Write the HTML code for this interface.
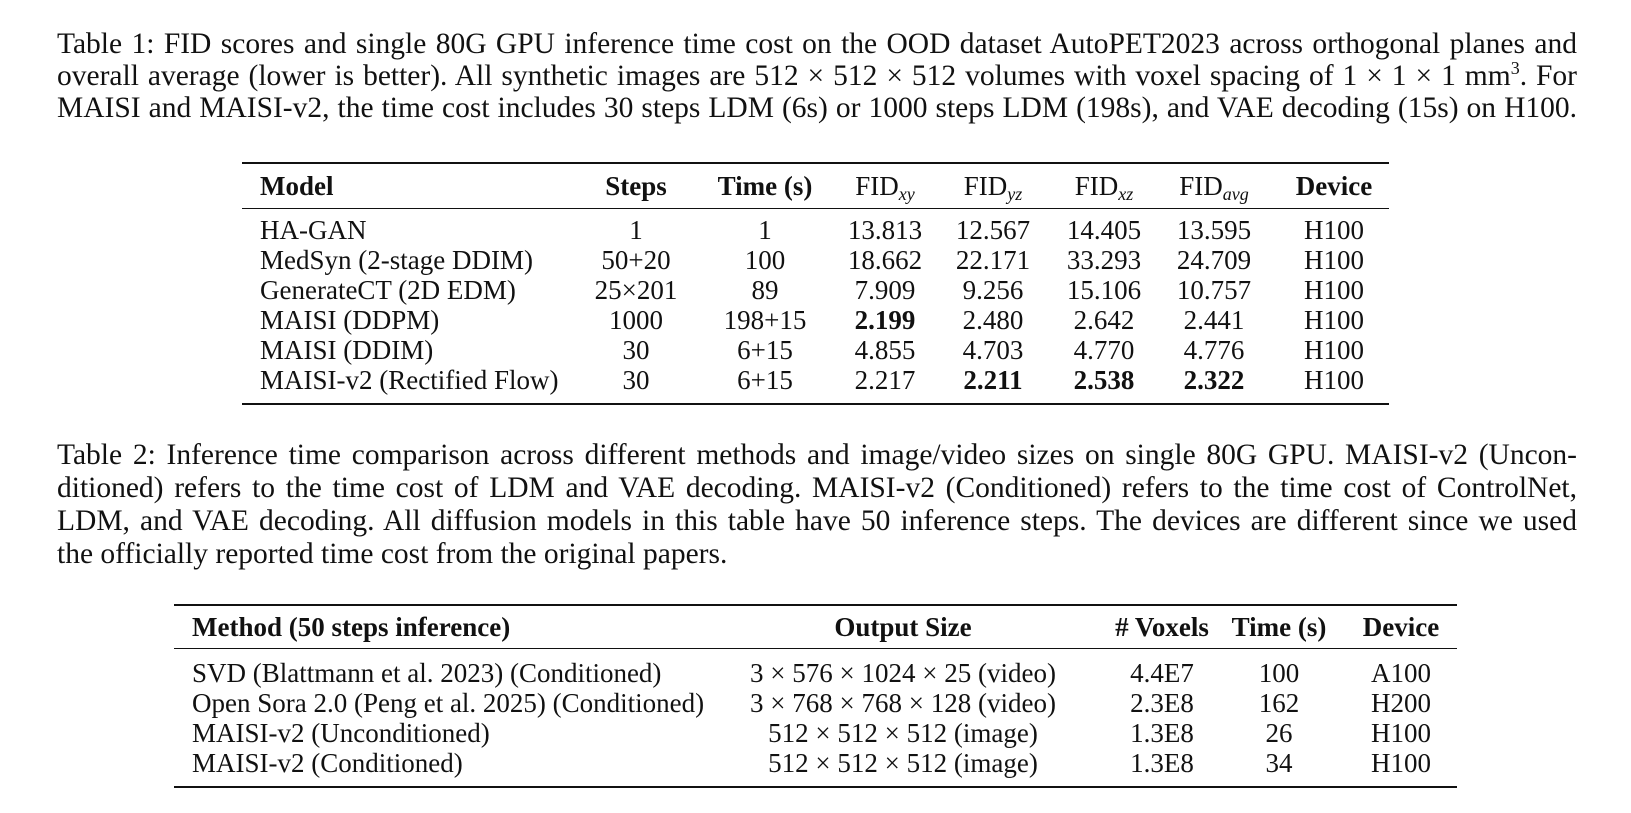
<!DOCTYPE html>
<html><head><meta charset="utf-8">
<style>
body{margin:0;background:#fff;}
#page{position:relative;width:1631px;height:813px;background:#fff;font-family:"Liberation Serif","DejaVu Serif",serif;color:#111;overflow:hidden;}
.cap{position:absolute;left:57px;width:1520px;font-size:29.5px;line-height:33px;white-space:nowrap;text-align:justify;text-align-last:justify;}
.t{position:absolute;font-size:27px;line-height:30px;white-space:nowrap;}
.c{transform:translateX(-50%);}
.rule{position:absolute;background:#111;}
sub{font-size:18px;font-style:italic;vertical-align:-5px;line-height:0;}
sup{font-size:18px;line-height:0;}
b{font-weight:bold;}
</style></head><body>
<div id="page">
<div class="cap" style="top:28px">Table 1: FID scores and single 80G GPU inference time cost on the OOD dataset AutoPET2023 across orthogonal planes and</div>
<div class="cap" style="top:60px">overall average (lower is better). All synthetic images are 512 × 512 × 512 volumes with voxel spacing of 1 × 1 × 1 mm<sup>3</sup>. For</div>
<div class="cap" style="top:92px">MAISI and MAISI-v2, the time cost includes 30 steps LDM (6s) or 1000 steps LDM (198s), and VAE decoding (15s) on H100.</div>

<div>
<div class="rule" style="left:242px;width:1147px;top:162px;height:2px"></div>
<div class="rule" style="left:242px;width:1147px;top:208px;height:1px"></div>
<div class="rule" style="left:242px;width:1147px;top:403px;height:2px"></div>
<div id="t1"></div>
</div>

<div class="cap" style="top:439px">Table 2: Inference time comparison across different methods and image/video sizes on single 80G GPU. MAISI-v2 (Uncon-</div>
<div class="cap" style="top:472px">ditioned) refers to the time cost of LDM and VAE decoding. MAISI-v2 (Conditioned) refers to the time cost of ControlNet,</div>
<div class="cap" style="top:505px">LDM, and VAE decoding. All diffusion models in this table have 50 inference steps. The devices are different since we used</div>
<div class="cap" style="top:538px;text-align-last:left">the officially reported time cost from the original papers.</div>

<div>
<div class="rule" style="left:174px;width:1283px;top:604px;height:2px"></div>
<div class="rule" style="left:174px;width:1283px;top:648px;height:1px"></div>
<div class="rule" style="left:174px;width:1283px;top:786px;height:2px"></div>
<div id="t2"></div>
</div>
</div>
<script>
const t1cols=[{x:260,a:'l'},{x:636},{x:765},{x:885},{x:993},{x:1104},{x:1214},{x:1334}];
const t1rows=[
 ['<b>Model</b>','<b>Steps</b>','<b>Time (s)</b>','FID<sub>xy</sub>','FID<sub>yz</sub>','FID<sub>xz</sub>','FID<sub>avg</sub>','<b>Device</b>'],
 ['HA-GAN','1','1','13.813','12.567','14.405','13.595','H100'],
 ['MedSyn (2-stage DDIM)','50+20','100','18.662','22.171','33.293','24.709','H100'],
 ['GenerateCT (2D EDM)','25×201','89','7.909','9.256','15.106','10.757','H100'],
 ['MAISI (DDPM)','1000','198+15','<b>2.199</b>','2.480','2.642','2.441','H100'],
 ['MAISI (DDIM)','30','6+15','4.855','4.703','4.770','4.776','H100'],
 ['MAISI-v2 (Rectified Flow)','30','6+15','2.217','<b>2.211</b>','<b>2.538</b>','<b>2.322</b>','H100']];
const t1y=[171,215,245,275,305,335,365];
const t2cols=[{x:192,a:'l'},{x:903},{x:1162},{x:1279},{x:1401}];
const t2rows=[
 ['<b>Method (50 steps inference)</b>','<b>Output Size</b>','<b># Voxels</b>','<b>Time (s)</b>','<b>Device</b>'],
 ['SVD (Blattmann et al. 2023) (Conditioned)','3 × 576 × 1024 × 25 (video)','4.4E7','100','A100'],
 ['Open Sora 2.0 (Peng et al. 2025) (Conditioned)','3 × 768 × 768 × 128 (video)','2.3E8','162','H200'],
 ['MAISI-v2 (Unconditioned)','512 × 512 × 512 (image)','1.3E8','26','H100'],
 ['MAISI-v2 (Conditioned)','512 × 512 × 512 (image)','1.3E8','34','H100']];
const t2y=[612,658,688,718,748];
function build(id,cols,rows,ys,prefix){
 const host=document.getElementById(id);
 rows.forEach((r,i)=>{r.forEach((txt,j)=>{
  const d=document.createElement('div');
  d.className='t'+(cols[j].a==='l'?'':' c');
  d.style.left=cols[j].x+'px';d.style.top=ys[i]+'px';
  d.innerHTML=txt;
  
  
  host.appendChild(d);});});
}
build('t1',t1cols,t1rows,t1y,'table1');
build('t2',t2cols,t2rows,t2y,'table2');
</script>
</body></html>
